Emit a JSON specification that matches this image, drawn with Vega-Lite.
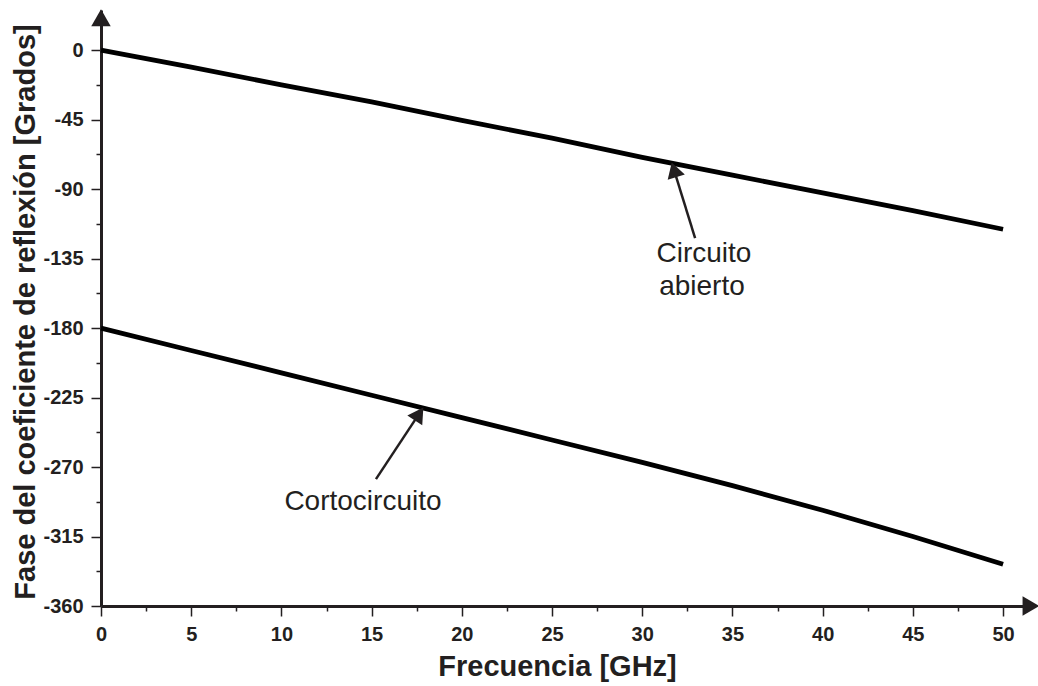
{
  "$schema": "https://vega.github.io/schema/vega-lite/v6.json",
  "width": 934,
  "height": 596,
  "autosize": {"type": "none"},
  "padding": {"left": 101, "top": 10, "right": 3, "bottom": 80},
  "background": "white",
  "config": {"view": {"stroke": null}, "font": "Liberation Sans"},
  "datasets": {
    "curves": [
      {"serie": "Circuito abierto", "f": 0, "fase": 0},
      {"serie": "Circuito abierto", "f": 5, "fase": -11},
      {"serie": "Circuito abierto", "f": 10, "fase": -22.5},
      {"serie": "Circuito abierto", "f": 15, "fase": -33.5},
      {"serie": "Circuito abierto", "f": 20, "fase": -45.5},
      {"serie": "Circuito abierto", "f": 25, "fase": -57},
      {"serie": "Circuito abierto", "f": 30, "fase": -69.5},
      {"serie": "Circuito abierto", "f": 35, "fase": -81},
      {"serie": "Circuito abierto", "f": 40, "fase": -92.5},
      {"serie": "Circuito abierto", "f": 45, "fase": -104},
      {"serie": "Circuito abierto", "f": 50, "fase": -116},
      {"serie": "Cortocircuito", "f": 0, "fase": -180},
      {"serie": "Cortocircuito", "f": 5, "fase": -194.5},
      {"serie": "Cortocircuito", "f": 10, "fase": -209},
      {"serie": "Cortocircuito", "f": 15, "fase": -223.5},
      {"serie": "Cortocircuito", "f": 20, "fase": -238},
      {"serie": "Cortocircuito", "f": 25, "fase": -252.5},
      {"serie": "Cortocircuito", "f": 30, "fase": -267},
      {"serie": "Cortocircuito", "f": 35, "fase": -282},
      {"serie": "Cortocircuito", "f": 40, "fase": -298},
      {"serie": "Cortocircuito", "f": 45, "fase": -315},
      {"serie": "Cortocircuito", "f": 50, "fase": -333}
    ],
    "arrows": [
      {"serie": "Circuito abierto", "x": 32.93, "y": -121.8, "x2": 31.76, "y2": -77.5, "angle": -17},
      {"serie": "Cortocircuito", "x": 15.24, "y": -277.8, "x2": 17.63, "y2": -235.6, "angle": 33.5}
    ],
    "labels": [
      {"text": "Circuito", "x": 33.42, "y": -137.3},
      {"text": "abierto", "x": 33.31, "y": -158.7},
      {"text": "Cortocircuito", "x": 14.52, "y": -297.9}
    ],
    "axisArrows": [
      {"x": 51.55, "y": -360, "angle": 90},
      {"x": 0, "y": 21, "angle": 0}
    ]
  },
  "resolve": {"axis": {"x": "independent", "y": "independent"}},
  "layer": [
    {
      "data": {"name": "curves"},
      "mark": {"type": "line", "color": "#000000", "strokeWidth": 4.8, "strokeCap": "butt"},
      "encoding": {
        "x": {
          "field": "f", "type": "quantitative",
          "scale": {"domain": [0, 51.77], "nice": false, "zero": false},
          "axis": {
            "orient": "bottom",
            "values": [0, 5, 10, 15, 20, 25, 30, 35, 40, 45, 50],
            "labelExpr": "'' + datum.value",
            "grid": false,
            "tickSize": 10, "tickWidth": 1.5, "tickColor": "#231f20",
            "domainColor": "#231f20", "domainWidth": 3,
            "labelFont": "Liberation Sans", "labelFontWeight": "bold", "labelFontSize": 20,
            "labelColor": "#231f20", "labelPadding": 8, "labelFlush": false, "labelOverlap": false,
            "title": "Frecuencia [GHz]",
            "titleFont": "Liberation Sans", "titleFontSize": 29, "titleFontWeight": "bold", "titleColor": "#231f20",
            "titleX": 456, "titleY": 69, "titleBaseline": "alphabetic", "titleAlign": "center", "titleAnchor": null
          }
        },
        "y": {
          "field": "fase", "type": "quantitative",
          "scale": {"domain": [-360, 26], "nice": false, "zero": false},
          "axis": {
            "orient": "left",
            "values": [0, -45, -90, -135, -180, -225, -270, -315, -360],
            "labelExpr": "'' + datum.value",
            "grid": false,
            "tickSize": 10, "tickWidth": 1.5, "tickColor": "#231f20",
            "domainColor": "#231f20", "domainWidth": 3,
            "labelFont": "Liberation Sans", "labelFontWeight": "bold", "labelFontSize": 20,
            "labelColor": "#231f20", "labelPadding": 8, "labelFlush": false, "labelOverlap": false,
            "title": "Fase del coeficiente de reflexión [Grados]",
            "titleFont": "Liberation Sans", "titleFontSize": 29, "titleFontWeight": "bold", "titleColor": "#231f20",
            "titleX": -67, "titleY": 301.5, "titleAngle": -90, "titleBaseline": "alphabetic", "titleAlign": "center", "titleAnchor": null
          }
        },
        "detail": {"field": "serie"}
      }
    },
    {
      "data": {"name": "curves"},
      "mark": {"type": "point", "opacity": 0},
      "encoding": {
        "x": {
          "field": "f", "type": "quantitative",
          "scale": {"domain": [0, 51.77], "nice": false, "zero": false},
          "axis": {
            "orient": "bottom",
            "values": [2.5, 7.5, 12.5, 17.5, 22.5, 27.5, 32.5, 37.5, 42.5, 47.5],
            "labels": false, "domain": false, "grid": false, "title": null,
            "tickSize": 5, "tickWidth": 1.5, "tickColor": "#231f20"
          }
        },
        "y": {
          "field": "fase", "type": "quantitative",
          "scale": {"domain": [-360, 26], "nice": false, "zero": false},
          "axis": {
            "orient": "left",
            "values": [-22.5, -67.5, -112.5, -157.5, -202.5, -247.5, -292.5, -337.5],
            "labels": false, "domain": false, "grid": false, "title": null,
            "tickSize": 5, "tickWidth": 1.5, "tickColor": "#231f20"
          }
        }
      }
    },
    {
      "data": {"name": "arrows"},
      "mark": {"type": "rule", "color": "#231f20", "strokeWidth": 2.5},
      "encoding": {
        "x": {"field": "x", "type": "quantitative", "scale": {"domain": [0, 51.77], "nice": false, "zero": false}, "axis": null},
        "y": {"field": "y", "type": "quantitative", "scale": {"domain": [-360, 26], "nice": false, "zero": false}, "axis": null},
        "x2": {"field": "x2"},
        "y2": {"field": "y2"}
      }
    },
    {
      "data": {"name": "arrows"},
      "mark": {"type": "point", "shape": "triangle-up", "filled": true, "color": "#231f20", "opacity": 1, "size": 320},
      "encoding": {
        "x": {"field": "x2", "type": "quantitative", "scale": {"domain": [0, 51.77], "nice": false, "zero": false}, "axis": null},
        "y": {"field": "y2", "type": "quantitative", "scale": {"domain": [-360, 26], "nice": false, "zero": false}, "axis": null},
        "angle": {"field": "angle", "type": "quantitative", "scale": null}
      }
    },
    {
      "data": {"name": "axisArrows"},
      "mark": {"type": "point", "shape": "triangle-up", "filled": true, "color": "#231f20", "opacity": 1, "size": 380},
      "encoding": {
        "x": {"field": "x", "type": "quantitative", "scale": {"domain": [0, 51.77], "nice": false, "zero": false}, "axis": null},
        "y": {"field": "y", "type": "quantitative", "scale": {"domain": [-360, 26], "nice": false, "zero": false}, "axis": null},
        "angle": {"field": "angle", "type": "quantitative", "scale": null}
      }
    },
    {
      "data": {"name": "labels"},
      "mark": {"type": "text", "font": "Liberation Sans", "fontSize": 28, "color": "#231f20", "align": "center", "baseline": "alphabetic"},
      "encoding": {
        "x": {"field": "x", "type": "quantitative", "scale": {"domain": [0, 51.77], "nice": false, "zero": false}, "axis": null},
        "y": {"field": "y", "type": "quantitative", "scale": {"domain": [-360, 26], "nice": false, "zero": false}, "axis": null},
        "text": {"field": "text"}
      }
    }
  ]
}
